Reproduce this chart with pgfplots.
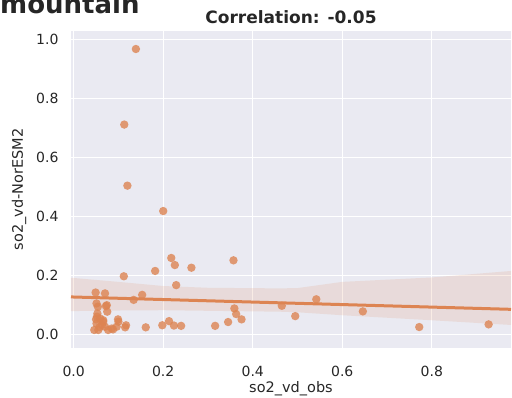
\documentclass[border=0pt]{standalone}
\usepackage{pgfplots}
\pgfplotsset{compat=1.18}
\usepackage{fontspec}
\setmainfont{DejaVu Sans}
\definecolor{c1}{HTML}{DD8452}
\definecolor{bg}{HTML}{EAEAF2}
\definecolor{txt}{HTML}{262626}
\begin{document}
\begin{tikzpicture}
\begin{axis}[
  scale only axis,
  width=440pt, height=317pt,
  xmin=-0.006, xmax=0.977,
  ymin=-0.046, ymax=1.028,
  axis background/.style={fill=bg},
  axis line style={draw=none},
  grid=major,
  major grid style={white, line width=1.4pt},
  major tick length=0pt,
  xtick={0,0.2,0.4,0.6,0.8},
  ytick={0,0.2,0.4,0.6,0.8,1.0},
  /pgf/number format/assume math mode=true,
  /pgf/number format/fixed,
  /pgf/number format/fixed zerofill,
  /pgf/number format/precision=1,
  tick label style={font=\fontsize{14}{16}\selectfont, text=txt},
  xticklabel style={yshift=-15pt},
  yticklabel style={xshift=-9pt},
  xlabel={so2\_vd\_obs},
  ylabel={so2\_vd-NorESM2},
  label style={font=\fontsize{14.5}{17}\selectfont, text=txt},
  xlabel style={at={(axis description cs:0.5,0)}, anchor=base, yshift=-45pt, inner sep=1pt},
  ylabel style={yshift=3pt},
  title={\bfseries Correlation: -0.05},
  title style={font=\fontsize{17}{20}\selectfont, text=txt, yshift=-2pt},
  clip=true,
]
% confidence band
\addplot[draw=none, fill=c1, fill opacity=0.15] coordinates {
 (-0.006,0.192) (0.1,0.178) (0.2,0.164) (0.3,0.158) (0.46,0.156) (0.5,0.157)
 (0.6,0.178) (0.8,0.193) (0.977,0.215)
 (0.977,0.032) (0.8,0.048) (0.6,0.065) (0.5,0.075) (0.46,0.077) (0.3,0.080)
 (0.2,0.082) (0.1,0.081) (-0.006,0.079)
} -- cycle;
% scatter
\addplot[color=c1, only marks, mark=*, mark size=4.2pt, mark options={fill=c1, fill opacity=0.8, draw opacity=0}] coordinates {
(0.139,0.967) (0.113,0.711) (0.120,0.504) (0.200,0.418) (0.218,0.259)
(0.226,0.235) (0.182,0.215) (0.263,0.226) (0.357,0.251) (0.112,0.197)
(0.229,0.167) (0.153,0.134) (0.134,0.117) (0.049,0.142) (0.070,0.139)
(0.359,0.088) (0.363,0.069) (0.375,0.051) (0.345,0.042) (0.316,0.029)
(0.240,0.029) (0.224,0.030) (0.213,0.045) (0.198,0.031) (0.161,0.024)
(0.117,0.031) (0.115,0.024) (0.099,0.051) (0.465,0.097) (0.495,0.062)
(0.542,0.119) (0.646,0.078) (0.772,0.025) (0.927,0.034) (0.051,0.105)
(0.054,0.094) (0.074,0.099) (0.075,0.077) (0.053,0.071) (0.050,0.051)
(0.051,0.037) (0.046,0.015) (0.063,0.032) (0.070,0.026) (0.077,0.015)
(0.085,0.020) (0.096,0.026) (0.059,0.054) (0.066,0.048) (0.055,0.015)
(0.072,0.096) (0.088,0.017) (0.066,0.043) (0.100,0.043) (0.052,0.060)
(0.058,0.025)
};
% regression line
\addplot[c1, line width=3pt] coordinates {(-0.006,0.127) (0.977,0.085)};
\end{axis}
\node[anchor=base west, font=\fontsize{26}{30}\selectfont\bfseries, text=txt, inner sep=0pt] at (-71pt,334pt) {mountain};
\pgfresetboundingbox
\useasboundingbox (-71pt,-50pt) rectangle (441pt,348pt);
\end{tikzpicture}
\end{document}
